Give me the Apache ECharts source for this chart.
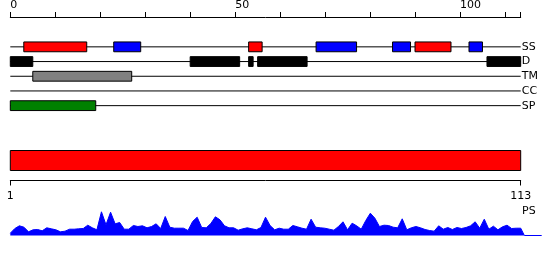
<!DOCTYPE html>
<html><head><meta charset="utf-8">
<script src="https://cdn.jsdelivr.net/npm/echarts@6/dist/echarts.min.js"></script>
<style>html,body{margin:0;padding:0;background:#fff}#c{width:550px;height:260px}</style>
</head><body><div id="c"></div>
<script>
const trackNames = ['SS', 'D', 'TM', 'CC', 'SP'];
const ssHelix = [[3, 17], [53, 56], [90, 98]];
const ssStrand = [[23, 29], [68, 77], [85, 89], [102, 105]];
const disorder = [[0, 5], [40, 51], [53, 54], [55, 66], [106, 113.5]];
const transmem = [[5, 27]];
const coiled = [];
const signalP = [[0, 19]];
const seqLength = 113;
const trackEnd = 113.5;
const topTicks = [0, 50, 100];
const bottomTicks = [1, 113];
const psScore = [2.3, 7, 9.7, 8.3, 3.7, 5.7, 6, 4.7, 7.7, 6.7,
  5.7, 3.7, 4.3, 6.3, 6.3, 6.7, 7, 10.3, 7.7, 5.7,
  23.7, 10.7, 23.3, 11.7, 13, 6.3, 6.3, 10, 9, 9.7,
  7.7, 9, 11.7, 7, 19, 8.3, 7.3, 7.3, 7.3, 5,
  14, 18.3, 8, 7.7, 12, 18.7, 15.7, 9.7, 7.7, 7.7,
  5.3, 6.7, 7.7, 6.7, 5.7, 8, 18.3, 10, 5.7, 7.3,
  6.3, 6.3, 10, 8.7, 7.3, 6.3, 16.3, 8.3, 7.7, 7.3,
  6.3, 5.3, 9, 13.7, 5.7, 12.3, 9.7, 6.3, 15, 22.3,
  17.3, 9, 10.3, 10, 8.3, 7.7, 16.7, 5.7, 7.7, 9,
  7.7, 6, 5, 4.3, 9.7, 6.3, 8, 6, 8, 7,
  8, 9.7, 13.7, 7.3, 16.3, 6.3, 9.3, 5.7, 8.7, 10.3,
  7, 7.3, 7.3];

const FONT = 'DejaVu Sans';
const chart = echarts.init(document.getElementById('c'), null, {renderer: 'canvas'});

function boxes(list, row, color) {
  return list.map(r => [r[0], r[1], row, color]);
}
const boxData = [].concat(
  boxes(ssHelix, 0, '#ff0000'), boxes(ssStrand, 0, '#0000ff'),
  boxes(disorder, 1, '#000000'), boxes(transmem, 2, '#808080'),
  boxes(coiled, 3, '#000000'), boxes(signalP, 4, '#008000'));
const lineData = trackNames.map((n, i) => [0, trackEnd, i]);

function renderLine(params, api) {
  const p0 = api.coord([api.value(0), api.value(2)]);
  const p1 = api.coord([api.value(1), api.value(2)]);
  return {type: 'line', shape: {x1: p0[0], y1: p0[1], x2: p1[0], y2: p1[1]},
    style: {stroke: '#000', lineWidth: 1}};
}
function renderBox(params, api) {
  const p0 = api.coord([api.value(0), api.value(2)]);
  const p1 = api.coord([api.value(1), api.value(2)]);
  const h = api.size([0, 1])[1] * 2 / 3;
  return {type: 'rect', shape: {x: p0[0], y: p0[1] - h / 2, width: p1[0] - p0[0], height: h},
    style: {fill: boxData[params.dataIndex][3], stroke: '#000', lineWidth: 1}};
}
function renderBar(params, api) {
  const p0 = api.coord([api.value(0), 3]);
  const p1 = api.coord([api.value(1), 1]);
  return {type: 'rect', shape: {x: p0[0], y: p0[1], width: p1[0] - p0[0], height: p1[1] - p0[1]},
    style: {fill: '#ff0000', stroke: '#000', lineWidth: 1}};
}

const areaData = psScore.map((v, i) => [i + 1, v]);
areaData.push([seqLength + 0.8, 0], [117.6, 0]);

chart.setOption({
  animation: false,
  textStyle: {fontFamily: FONT},
  grid: [
    {left: 10.3, width: 510.4, top: 38, height: 75},
    {left: 10.3, width: 510.4, top: 150.5, height: 30},
    {left: 10.3, width: 531.4, top: 205.5, height: 30}
  ],
  xAxis: [
    {gridIndex: 0, type: 'value', min: 0, max: trackEnd, interval: 10, position: 'top', offset: 22.5,
      axisLine: {show: true, onZero: false, lineStyle: {color: '#000', width: 1}},
      axisTick: {show: true, length: 5, lineStyle: {color: '#000'}},
      axisLabel: {color: '#000', fontSize: 11, fontFamily: FONT, align: 'left', margin: 6,
        formatter: v => topTicks.includes(v) ? String(v) : ''},
      splitLine: {show: false}},
    {gridIndex: 1, type: 'value', min: 1, max: seqLength, position: 'bottom',
      axisLine: {show: true, onZero: false, lineStyle: {color: '#000', width: 1}},
      axisTick: {show: true, length: 5, lineStyle: {color: '#000'}, customValues: bottomTicks},
      axisLabel: {color: '#000', fontSize: 11, fontFamily: FONT, margin: 10, customValues: bottomTicks},
      splitLine: {show: false}},
    {gridIndex: 2, type: 'value', min: 1, max: 117.6, show: false}
  ],
  yAxis: [
    {gridIndex: 0, type: 'category', data: trackNames, inverse: true, position: 'right',
      axisLine: {show: false}, axisTick: {show: false},
      axisLabel: {color: '#000', fontSize: 11, fontFamily: FONT, margin: 1}},
    {gridIndex: 1, type: 'value', min: 0, max: 3, show: false},
    {gridIndex: 2, type: 'value', min: 0, max: 30, show: false}
  ],
  series: [
    {type: 'custom', xAxisIndex: 0, yAxisIndex: 0, data: lineData, renderItem: renderLine, z: 1, silent: true},
    {type: 'custom', xAxisIndex: 0, yAxisIndex: 0, data: boxData.map(d => [d[0], d[1], d[2]]), renderItem: renderBox, z: 2, silent: true},
    {type: 'custom', xAxisIndex: 1, yAxisIndex: 1, data: [[1, seqLength]], renderItem: renderBar, silent: true},
    {type: 'line', xAxisIndex: 2, yAxisIndex: 2, data: areaData, symbol: 'none', clip: false,
      lineStyle: {color: '#0000ff', width: 1}, areaStyle: {color: '#0000ff', opacity: 1}, silent: true}
  ],
  graphic: [
    {type: 'text', left: 522, top: 206, style: {text: 'PS', fontSize: 11, fontFamily: FONT, fill: '#000'}}
  ]
});
</script>
</body></html>
